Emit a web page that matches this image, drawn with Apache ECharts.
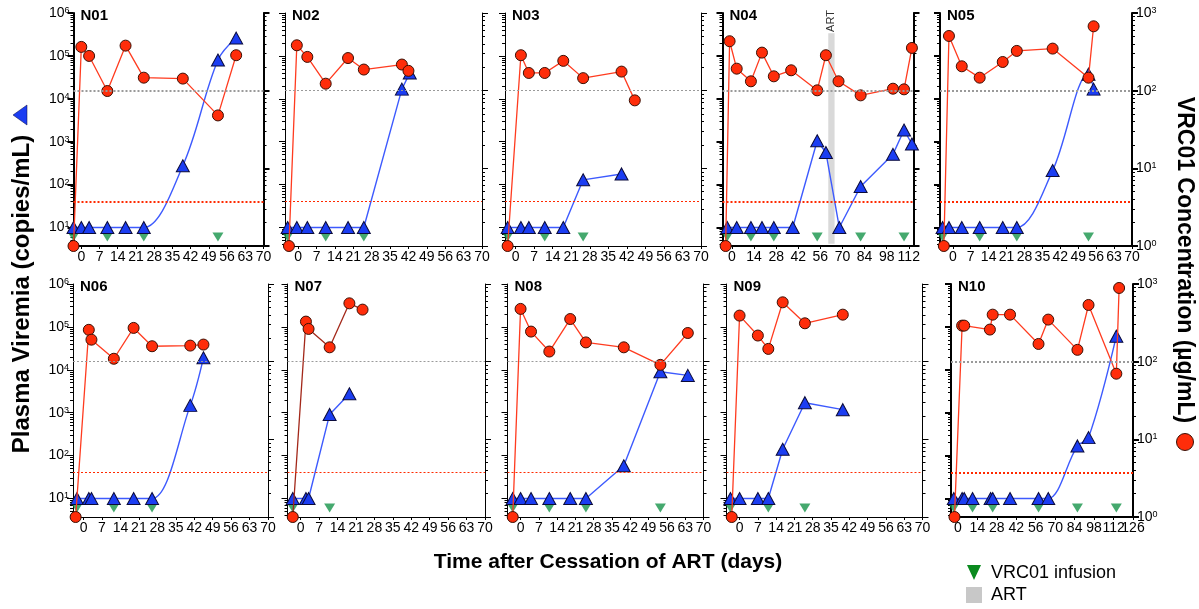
<!DOCTYPE html>
<html>
<head>
<meta charset="utf-8">
<script src="https://cdn.jsdelivr.net/npm/echarts@6/dist/echarts.min.js"></script>
<style>
  html, body { margin: 0; padding: 0; background: #fff; }
  #chart { width: 1199px; height: 609px; }
</style>
</head>
<body>
<div id="chart"></div>
<script>
const FONT = "'Liberation Sans', Arial, Helvetica, sans-serif"
const COLORS = {
  red: '#ff2d0a',
  redLine: '#ff3b1f',
  redBorder: '#3b1005',
  blue: '#1b3df2',
  blueLine: '#3d5afe',
  blueBorder: '#0b0b3a',
  green: '#16944a',
  grey: '#9a9a9a',
  art: '#cfcfcf',
  text: '#000',
}

// [day, VRC01 µg/mL]  /  [day, viremia copies/mL]  /  infusion days
const N01_VRC01 = [[-3, 1], [0, 366], [3, 280], [10, 99], [17, 380], [24, 147], [39, 143], [52.5, 48], [59.5, 286]]
const N01_VIREMIA = [[-3, 10], [0, 10], [3, 10], [10, 10], [17, 10], [24, 10], [39, 275], [52.5, 80000], [59.5, 260000]]
const N01_INFUSIONS = [-3, 10, 24, 52.5]

const N02_VRC01 = [[-3.5, 1], [-0.5, 384], [3.5, 272], [10.5, 123], [19, 263], [25, 187], [39.5, 217], [42, 180]]
const N02_VIREMIA = [[-4, 10], [-0.5, 10], [3.5, 10], [10.5, 10], [19, 10], [25, 10], [39.5, 16800], [42.5, 40000]]
const N02_INFUSIONS = [-4, 10.5, 25]

const N03_VRC01 = [[-3, 1], [2, 286], [5, 169], [11, 169], [18, 242], [25.5, 145], [40, 176], [45, 75]]
const N03_VIREMIA = [[-3, 10], [2, 10], [5, 10], [11, 10], [18, 10], [25.5, 129], [40, 177]]
const N03_INFUSIONS = [-3, 11, 25.5]

const N04_VRC01 = [[-4, 1], [-1.5, 433], [3, 192], [12, 132], [19, 309], [26.5, 153], [37.5, 183], [54, 101], [59.5, 286], [67.5, 132], [81.5, 87], [102, 106], [109, 104], [114, 355]]
const N04_VIREMIA = [[-3, 10], [3, 10], [12, 10], [19, 10], [26.5, 10], [38.5, 10], [54, 1050], [59.5, 560], [68, 10], [81.5, 90], [102, 507], [109, 1870], [114, 884]]
const N04_INFUSIONS = [-3, 12, 26.5, 54, 81.5, 109]
const N04_ART = [61, 65]

const N05_VRC01 = [[-3.5, 1], [-1.5, 506], [3.5, 206], [10.5, 147], [19.5, 234], [25, 325], [39, 348], [53, 147], [55, 674]]
const N05_VIREMIA = [[-4, 10], [-1.5, 10], [3.5, 10], [10.5, 10], [19.5, 10], [25, 10], [39, 212], [53, 37500], [55, 16800]]
const N05_INFUSIONS = [-4, 10.5, 25, 53]

const N06_VRC01 = [[-3, 1], [2, 257], [3, 192], [11.5, 109], [19, 272], [26, 158], [40.5, 161], [45.5, 166]]
const N06_VIREMIA = [[-2.5, 10], [2, 10], [3, 10], [11.5, 10], [19, 10], [26, 10], [40.5, 1480], [45.5, 19000]]
const N06_INFUSIONS = [-2.5, 11.5, 26]

const N07_VRC01 = [[-3, 1], [2, 328], [3, 264], [11, 153], [18.5, 564], [23.5, 468]]
const N07_VIREMIA = [[-3, 10], [2, 10], [3, 10], [11, 910], [18.5, 2770]]
const N07_INFUSIONS = [-3, 11]

const N08_VRC01 = [[-3, 1], [0, 478], [4, 244], [11, 135], [19, 354], [25, 177], [39.5, 153], [53.5, 91], [64, 234]]
const N08_VIREMIA = [[-3, 10], [0, 10], [4, 10], [11, 10], [19, 10], [25, 10], [39.5, 58], [53.5, 8980], [64, 7400]]
const N08_INFUSIONS = [-3, 11, 25, 53.5]

const N09_VRC01 = [[-3, 1], [0, 392], [7, 217], [11, 146], [16.5, 581], [25, 312], [39.5, 403]]
const N09_VIREMIA = [[-3.5, 10], [0, 10], [7, 10], [11, 10], [16.5, 140], [25, 1710], [39.5, 1175]]
const N09_INFUSIONS = [-3.5, 11, 25]

const N10_VRC01 = [[-2.5, 1], [3, 291], [4.5, 291], [23, 259], [25, 403], [37.5, 403], [58, 169], [65, 348], [86, 142], [94, 537], [114, 70], [116, 889]]
const N10_VIREMIA = [[-3, 10], [3, 10], [4.5, 10], [10.5, 10], [23.5, 10], [25, 10], [37.5, 10], [58, 10], [65, 10], [86, 168], [94, 262], [114, 60700]]
const N10_INFUSIONS = [-3, 10.5, 25, 58, 86, 114]

const DETECTION_LIMIT = 40      // copies/mL, red dotted line
const VRC01_REFERENCE = 100     // µg/mL, grey dotted line
const INFUSION_LEVEL = 6        // where infusion markers sit on the viremia axis

const PANELS = [
  { name: 'N01', vrc01: N01_VRC01, viremia: N01_VIREMIA, infusions: N01_INFUSIONS },
  { name: 'N02', vrc01: N02_VRC01, viremia: N02_VIREMIA, infusions: N02_INFUSIONS },
  { name: 'N03', vrc01: N03_VRC01, viremia: N03_VIREMIA, infusions: N03_INFUSIONS },
  { name: 'N04', vrc01: N04_VRC01, viremia: N04_VIREMIA, infusions: N04_INFUSIONS, art: N04_ART },
  { name: 'N05', vrc01: N05_VRC01, viremia: N05_VIREMIA, infusions: N05_INFUSIONS },
  { name: 'N06', vrc01: N06_VRC01, viremia: N06_VIREMIA, infusions: N06_INFUSIONS },
  { name: 'N07', vrc01: N07_VRC01, viremia: N07_VIREMIA, infusions: N07_INFUSIONS },
  { name: 'N08', vrc01: N08_VRC01, viremia: N08_VIREMIA, infusions: N08_INFUSIONS },
  { name: 'N09', vrc01: N09_VRC01, viremia: N09_VIREMIA, infusions: N09_INFUSIONS },
  { name: 'N10', vrc01: N10_VRC01, viremia: N10_VIREMIA, infusions: N10_INFUSIONS },
]

// layout per panel (pixels / axis ranges)
const LAYOUT = [
  { left: 73.5, top: 13, width: 190, xMin: -3, xMax: 70, step: 7, heavy: true, smooth: true, leftLabels: true },
  { left: 285, top: 13, width: 197, xMin: -5, xMax: 70, step: 7 },
  { left: 505, top: 13, width: 196, xMin: -4, xMax: 70, step: 7 },
  { left: 722.5, top: 13, width: 191, xMin: -6, xMax: 115, step: 14, heavy: true },
  { left: 940, top: 13, width: 192, xMin: -5, xMax: 70, step: 7, heavy: true, smooth: true, rightLabels: true },
  { left: 73, top: 284, width: 195, xMin: -4, xMax: 70, step: 7, smooth: true, leftLabels: true },
  { left: 287.5, top: 284, width: 197.5, xMin: -5, xMax: 70, step: 7, redLine: '#a3281a' },
  { left: 507.5, top: 284, width: 196, xMin: -5, xMax: 70, step: 7 },
  { left: 726.5, top: 284, width: 196, xMin: -5, xMax: 70, step: 7 },
  { left: 951, top: 284, width: 182, xMin: -5, xMax: 126, step: 14, heavy: true, smooth: true, rightLabels: true, lastLabelApart: true },
]
const PANEL_HEIGHT = 233

const lg = v => Math.log10(v)
const LEFT_MIN = lg(3.7)
const LEFT_MAX = 6
const RIGHT_MIN = 0
const RIGHT_MAX = 3

const LEFT_MAJOR = [1, 2, 3, 4, 5, 6]
const RIGHT_MAJOR = [0, 1, 2, 3]
const LEFT_MINOR = []
for (let e = 0; e < 6; e++) {
  for (let k = 2; k <= 9; k++) {
    const v = k * Math.pow(10, e)
    if (v >= 3.7) LEFT_MINOR.push(lg(v))
  }
}
const RIGHT_MINOR = []
for (let e = 0; e < 3; e++) {
  for (let k = 2; k <= 9; k++) RIGHT_MINOR.push(lg(k * Math.pow(10, e)))
}

const supRich = {
  b: { fontFamily: FONT, fontSize: 14, color: COLORS.text },
  s: { fontFamily: FONT, fontSize: 9, color: COLORS.text, verticalAlign: 'top' },
}
const supLabel = v => '{b|10}{s|' + Math.round(v) + '}'

function range(from, to, step) {
  const out = []
  for (let v = from; v <= to; v += step) out.push(v)
  return out
}

function yAxisPair(i, lay, side, min, max, major, minor, showLabels) {
  const w = lay.heavy ? 2 : 1
  const base = {
    type: 'value', gridIndex: i, position: side, min, max,
    splitLine: { show: false },
  }
  return [
    {
      ...base,
      axisLine: { show: true, onZero: false, lineStyle: { color: '#000', width: w } },
      axisTick: { show: true, length: 6, customValues: major, lineStyle: { color: '#000', width: w } },
      axisLabel: {
        show: !!showLabels, customValues: major, margin: 4,
        formatter: supLabel, rich: supRich, showMinLabel: true, showMaxLabel: true,
      },
    },
    {
      ...base,
      axisLine: { show: false, onZero: false },
      axisTick: { show: true, length: 3, customValues: minor, lineStyle: { color: '#000', width: 1 } },
      axisLabel: { show: false, customValues: minor },
    },
  ]
}

const grid = []
const xAxis = []
const yAxis = []
const series = []
const graphic = []

PANELS.forEach((p, i) => {
  const lay = LAYOUT[i]
  const w = lay.heavy ? 2 : 1
  grid.push({ left: lay.left, top: lay.top, width: lay.width, height: PANEL_HEIGHT, containLabel: false, outerBoundsMode: 'none' })

  const ticks = range(0, lay.xMax, lay.step)
  const labels = lay.lastLabelApart ? ticks.slice(0, -1) : ticks
  xAxis.push({
    type: 'value', gridIndex: i, min: lay.xMin, max: lay.xMax,
    splitLine: { show: false },
    axisLine: { show: true, onZero: false, lineStyle: { color: '#000', width: w } },
    axisTick: { show: true, length: 3, customValues: ticks, lineStyle: { color: '#000' } },
    axisLabel: {
      customValues: labels, margin: 4, hideOverlap: false,
      fontFamily: FONT, fontSize: 14, color: COLORS.text,
      showMinLabel: true, showMaxLabel: true,
    },
  })

  const leftIdx = yAxis.length
  yAxis.push(...yAxisPair(i, lay, 'left', LEFT_MIN, LEFT_MAX, LEFT_MAJOR, LEFT_MINOR, lay.leftLabels))
  const rightIdx = yAxis.length
  yAxis.push(...yAxisPair(i, lay, 'right', RIGHT_MIN, RIGHT_MAX, RIGHT_MAJOR, RIGHT_MINOR, lay.rightLabels))

  series.push({
    type: 'scatter', xAxisIndex: i, yAxisIndex: leftIdx, z: 2, clip: false,
    symbol: 'triangle', symbolRotate: 180, symbolSize: [11, 9],
    itemStyle: { color: COLORS.green },
    data: p.infusions.map(d => [d, lg(INFUSION_LEVEL)]),
  })
  series.push({
    type: 'line', xAxisIndex: i, yAxisIndex: leftIdx, z: 3, clip: false,
    smooth: lay.smooth ? 0.35 : false,
    symbol: 'triangle', symbolSize: [13, 12],
    itemStyle: { color: COLORS.blue, borderColor: COLORS.blueBorder, borderWidth: 1 },
    lineStyle: { color: COLORS.blueLine, width: 1.4 },
    data: p.viremia.map(([d, v]) => [d, lg(v)]),
    markLine: {
      silent: true, symbol: 'none', label: { show: false },
      lineStyle: { color: '#ff2a00', type: [2, 2], width: w },
      data: [{ yAxis: lg(DETECTION_LIMIT) }],
    },
  })
  series.push({
    type: 'line', xAxisIndex: i, yAxisIndex: rightIdx, z: 4, clip: false,
    symbol: 'circle', symbolSize: 11,
    itemStyle: { color: COLORS.red, borderColor: COLORS.redBorder, borderWidth: 1 },
    lineStyle: { color: lay.redLine || COLORS.redLine, width: 1.3 },
    data: p.vrc01.map(([d, v]) => [d, lg(v)]),
    markLine: {
      silent: true, symbol: 'none', label: { show: false },
      lineStyle: { color: COLORS.grey, type: [2, 2], width: w },
      data: [{ yAxis: lg(VRC01_REFERENCE) }],
    },
  })
  if (p.art) {
    series.push({
      type: 'line', xAxisIndex: i, yAxisIndex: leftIdx, z: 6,
      showSymbol: false, lineStyle: { opacity: 0 },
      data: [[(p.art[0] + p.art[1]) / 2, 3]],
      markArea: {
        silent: true,
        itemStyle: { color: COLORS.art, opacity: 0.8 },
        data: [[{ xAxis: p.art[0], yAxis: 5.53 }, { xAxis: p.art[1], yAxis: 0.62 }]],
      },
    })
  }

  graphic.push({
    type: 'text', x: lay.left + 7, y: lay.top + 3,
    style: {
      text: p.name, fontFamily: FONT, fontSize: 15, fontWeight: 'bold', fill: COLORS.text,
      align: 'left', verticalAlign: 'middle', textAlign: 'left', textVerticalAlign: 'middle',
    },
  })
})

function txt(x, y, text, size, opts) {
  return Object.assign({
    type: 'text', x, y,
    style: {
      text, fontFamily: FONT, fontSize: size, fontWeight: 'bold', fill: COLORS.text,
      align: 'center', verticalAlign: 'middle', textAlign: 'center', textVerticalAlign: 'middle',
    },
  }, opts || {})
}

graphic.push(txt(608, 562, 'Time after Cessation of ART (days)', 21))
graphic.push(txt(22, 294, 'Plasma Viremia (copies/mL)', 24, { rotation: Math.PI / 2 }))
graphic.push({
  type: 'polygon', shape: { points: [[13, 115], [27, 105], [27, 125]] },
  style: { fill: COLORS.blue, stroke: COLORS.blueBorder, lineWidth: 0.5 },
})
graphic.push(txt(1184, 260, 'VRC01 Concentration (\u00b5g/mL)', 23, { rotation: -Math.PI / 2 }))
graphic.push({
  type: 'circle', shape: { cx: 1185, cy: 442, r: 8.5 },
  style: { fill: COLORS.red, stroke: COLORS.redBorder, lineWidth: 1 },
})

// legend
graphic.push({
  type: 'polygon', shape: { points: [[967, 565], [981, 565], [974, 580]] },
  style: { fill: '#0a8a1e' },
})
graphic.push({
  type: 'text', x: 991, y: 573,
  style: { text: 'VRC01 infusion', fontFamily: FONT, fontSize: 18, fill: COLORS.text, align: 'left', verticalAlign: 'middle', textAlign: 'left', textVerticalAlign: 'middle' },
})
graphic.push({ type: 'rect', shape: { x: 966, y: 587, width: 16, height: 16 }, style: { fill: '#c8c8c8' } })
graphic.push({
  type: 'text', x: 991, y: 595,
  style: { text: 'ART', fontFamily: FONT, fontSize: 18, fill: COLORS.text, align: 'left', verticalAlign: 'middle', textAlign: 'left', textVerticalAlign: 'middle' },
})

const chart = echarts.init(document.getElementById('chart'))
chart.setOption({
  animation: false,
  backgroundColor: '#fff',
  grid, xAxis, yAxis, series, graphic,
})

// extra texts that depend on axis positions
const extra = []
const artX = chart.convertToPixel({ xAxisIndex: 3 }, (N04_ART[0] + N04_ART[1]) / 2)
extra.push({
  type: 'text', x: artX, y: 21, rotation: Math.PI / 2,
  style: { text: 'ART', fontFamily: FONT, fontSize: 11, fill: '#333', align: 'center', verticalAlign: 'middle', textAlign: 'center', textVerticalAlign: 'middle' },
})
LAYOUT.forEach((lay, i) => {
  if (!lay.lastLabelApart) return
  const last = range(0, lay.xMax, lay.step).pop()
  extra.push({
    type: 'text', x: chart.convertToPixel({ xAxisIndex: i }, last), y: lay.top + PANEL_HEIGHT + 4,
    style: { text: String(last), fontFamily: FONT, fontSize: 14, fill: COLORS.text, align: 'center', verticalAlign: 'top', textAlign: 'center', textVerticalAlign: 'top' },
  })
})
chart.setOption({ graphic: graphic.concat(extra) })
</script>
</body>
</html>
